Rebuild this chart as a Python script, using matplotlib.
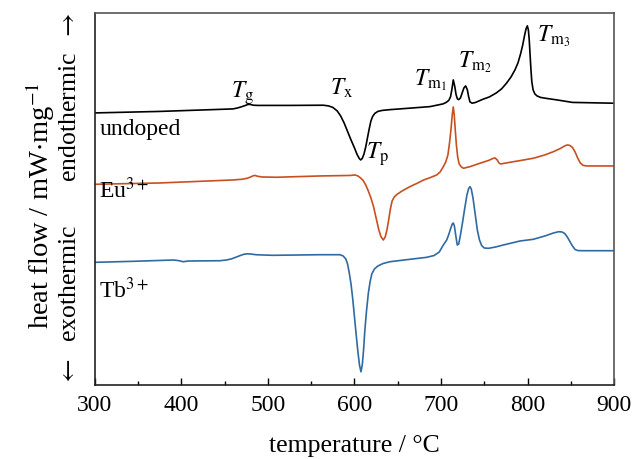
import numpy as np
import matplotlib
matplotlib.use('Agg')
import matplotlib.pyplot as plt

plt.rcParams['font.family'] = ['Liberation Serif', 'DejaVu Serif']
plt.rcParams['mathtext.fontset'] = 'stix'

# temperature (degC) and heat flow (arbitrary units, endothermic up)
t_undoped = [300, 375, 459.5, 465, 470, 474, 477, 479.5, 483, 488, 525, 564, 570, 575, 580, 584,
             588, 592, 596, 600, 603, 605.5, 607.2, 609, 611, 613, 615, 617, 619, 621, 623.5,
             627, 632, 640, 667.6, 687.3, 702.3, 706, 709, 711, 712.5, 714.2, 715.8, 717.5, 719,
             720.5, 722.5, 724.5, 726.5, 728.5, 730.5, 732, 733.5, 736, 740, 748.6, 756, 764,
             770, 776, 781, 785.5, 789, 792, 794.5, 796.5, 798.3, 799.8, 801, 802, 803, 804,
             805, 806.5, 808.5, 811, 815, 822, 834, 852, 900]
hf_undoped = [272, 273.5, 276, 277, 278.3, 279.5, 280.5, 280.5, 279.7, 279.5, 279.5, 279.7, 279,
              277.5, 274, 269, 262, 253.5, 245, 237, 230.5, 226.5, 225, 226.5, 231, 238, 247,
              256, 264, 268.5, 271.5, 273.5, 274.5, 275.2, 277, 278.3, 281, 282.5, 284.5, 288,
              295, 305, 299, 290, 286, 285.3, 287, 292, 297, 299, 295, 288, 283, 281.7, 282.5,
              285.7, 288, 292, 296, 302, 308, 315, 322, 331, 340, 349, 356, 359, 355, 345,
              330, 315, 303, 295, 291, 289, 287.5, 286.5, 285, 282.5, 281.7]

t_eu = [300, 375, 459.5, 470, 476, 480, 483, 485, 488, 493, 510, 560, 594.8, 600.6, 604, 607,
        610, 613, 616, 619, 622, 625, 628, 630.5, 633.3, 635.5, 637.5, 639.5, 641.5, 643.5, 646,
        649, 655, 664, 672, 680, 688, 695, 699, 702.7, 705.5, 708, 710, 711.5, 713, 714.2,
        715.3, 716.5, 717.8, 719.3, 721, 723.5, 726, 733.5, 745, 755, 760, 762.5, 765, 767,
        769, 780, 791, 806.7, 820, 830, 838, 843, 846, 849, 852, 855, 858, 861, 864, 868, 900]
hf_eu = [200.7, 202, 205, 205.7, 206.7, 208, 209.2, 209.5, 208.7, 208, 207.7, 209, 209.5, 210,
         209, 207, 204.5, 200, 194, 187, 178.5, 167, 155.5, 148.5, 145, 148, 155, 165, 176,
         184, 188, 190.5, 194, 198.3, 201.5, 205, 207.5, 210, 213, 218.3, 223, 230, 243, 255,
         270, 278, 270, 255, 240, 228, 221, 218, 216.7, 218.3, 221.7, 224.5, 226.5, 227, 225,
         222, 221, 222.7, 224.3, 226.7, 230, 233.3, 236.5, 239, 240, 239.5, 237.5, 233, 227,
         222, 219.7, 219, 219]

t_tb = [300, 343.9, 390.5, 396, 402.1, 408, 444.5, 452, 458, 463, 468, 472, 476, 480, 486, 495,
        506, 560, 583.2, 587, 590, 592, 594, 596, 598, 600, 602, 604, 605.8, 607.5, 609, 610.5,
        612, 614, 616, 618, 620, 623, 627, 633, 641, 664, 683.5, 692, 698, 702.7, 706.6, 709,
        711, 713, 714.2, 715.5, 717, 718.8, 720.5, 722.5, 725, 727.5, 730, 732, 733.5, 735,
        737, 739.5, 742, 744.5, 747, 750, 755, 763, 772, 791.3, 806.7, 820, 830, 836, 840,
        843, 846, 849, 852, 855, 858, 862, 900]
hf_tb = [122.7, 123.7, 125, 124.5, 123.3, 124, 124.3, 125, 126.2, 127.8, 129.5, 130.7, 131.2,
         131, 130.3, 130, 129.7, 130.3, 130.3, 129, 126, 121, 112, 101, 86, 68, 50, 33, 20,
         13.3, 20, 35, 55, 75, 91.7, 103, 111, 116, 119, 121.5, 123.3, 125.7, 127.7, 129.5,
         133, 140, 145, 150.5, 156, 161, 162, 159, 150, 140, 141, 150, 163, 177, 190, 196.5,
         198.3, 196, 187, 171, 155, 145, 139.5, 137, 136.7, 138, 140, 144, 145.7, 149, 152,
         153.3, 153, 151.5, 148, 143.5, 139, 135.5, 134.5, 134.3, 134.3]

labels = ['undoped', r'Eu$^{3+}$', r'Tb$^{3+}$']
label_pos = [(305, 255), (305, 195), (305, 95)]

peaks = [r'$T_\mathrm{g}$', r'$T_\mathrm{x}$', r'$T_\mathrm{p}$',
         r'$T_{\mathrm{m}_1}$', r'$T_{\mathrm{m}_2}$', r'$T_{\mathrm{m}_3}$']
peak_pos = [(470, 292), (585, 297), (626, 231), (688, 305), (739, 323), (830, 349)]

fig = plt.figure(figsize=(6.33, 4.59), dpi=100)
ax = fig.add_axes([0.150, 0.161, 0.820, 0.811])

ax.plot(t_undoped, hf_undoped, color='black', lw=1.2)
ax.plot(t_eu, hf_eu, color='#c8501e', lw=1.2)
ax.plot(t_tb, hf_tb, color='#2f6aa3', lw=1.2)

for s, (x, y) in zip(labels, label_pos):
    ax.text(x, y, s, fontsize=17, ha='left', va='center')
for s, (x, y) in zip(peaks, peak_pos):
    ax.text(x, y, s, fontsize=17, ha='center', va='center')

ax.set_xlim(300, 900)
ax.set_ylim(0, 372)
ax.set_xticks(np.arange(300, 901, 100))
ax.set_xticks(np.arange(350, 900, 100), minor=True)
ax.set_yticks([])
ax.tick_params(axis='x', which='major', direction='in', length=5, width=1, labelsize=17, pad=7)
ax.tick_params(axis='x', which='minor', direction='in', length=3, width=1)
for side in ['left', 'bottom']:
    ax.spines[side].set_color('#222222')
    ax.spines[side].set_linewidth(1.2)
for side in ['top', 'right']:
    ax.spines[side].set_color('#555555')
    ax.spines[side].set_linewidth(1.2)

ax.set_xlabel('temperature / °C', fontsize=18.5, labelpad=14)

fig.text(0.063, 0.551, r'heat flow / mW$\cdot$mg$^{-1}$', rotation=90, fontsize=20.5,
         ha='center', va='center')
fig.text(0.110, 0.16, r'$\leftarrow$  exothermic', rotation=90, fontsize=18.5,
         ha='center', va='bottom')
fig.text(0.110, 0.972, r'endothermic  $\rightarrow$', rotation=90, fontsize=18.5,
         ha='center', va='top')

fig.savefig('out.png', dpi=100)
